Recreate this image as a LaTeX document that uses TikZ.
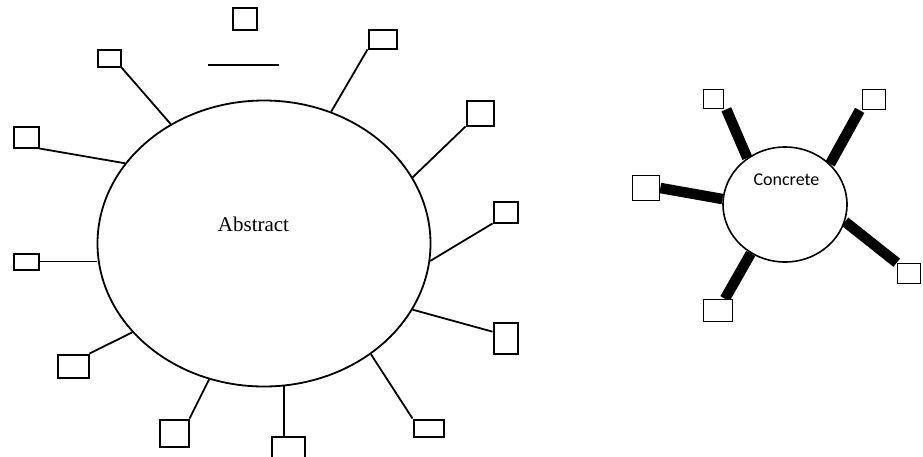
\documentclass[tikz,border=0pt]{standalone}
\usepackage{fontspec}
\setmainfont{Liberation Serif}
\newfontfamily\calfont{Carlito}
\usetikzlibrary{shapes.geometric}
\pgfdeclarelayer{bg}
\pgfsetlayers{bg,main}
\tikzset{
  leaf/.style={draw, fill=white, line width=2pt, rectangle, inner sep=0pt, anchor=center},
  hub/.style={draw, fill=white, ellipse, inner sep=0pt},
  spoke/.style={line width=1.8pt},
  bar/.style={line width=10.5pt, line cap=butt},
}
\begin{document}
\begin{tikzpicture}[x=1pt,y=-1pt]
\useasboundingbox (0,0) rectangle (923,456);

% ---- abstract hub ----
\node[hub, line width=1.8pt, minimum width=333pt, minimum height=286pt] (abs) at (264,243.5) {};
\node[anchor=base, font=\fontsize{21}{21}\selectfont] (abstxt) at (253.5,231) {Abstract};

\node[leaf, minimum width=24pt, minimum height=22pt] (t)  at (244.5,18.5) {};
\coordinate (bl) at (208,65);
\coordinate (br) at (279,65);
\node[leaf, minimum width=23pt, minimum height=17pt] (ul) at (109,58) {};
\node[leaf, minimum width=25pt, minimum height=21pt] (l1) at (26,137) {};
\node[leaf, minimum width=28pt, minimum height=19pt] (ur) at (382.5,39) {};
\node[leaf, minimum width=27pt, minimum height=25pt] (r1) at (480,113) {};
\node[leaf, minimum width=24pt, minimum height=21pt] (r2) at (505.5,212) {};
\node[leaf, minimum width=24pt, minimum height=31pt] (r3) at (505.5,338) {};
\node[leaf, minimum width=30pt, minimum height=17pt] (lr) at (428.5,428) {};
\node[leaf, minimum width=33pt, minimum height=25pt] (bt) at (288,449) {};
\node[leaf, minimum width=29pt, minimum height=27pt] (ll) at (174,433) {};
\node[leaf, minimum width=31pt, minimum height=23pt] (l3) at (73,366) {};
\node[leaf, minimum width=25pt, minimum height=16pt] (l2) at (26,261.5) {};

\begin{pgfonlayer}{bg}
\draw[spoke] (bl) -- (br);
\draw[spoke] (ul.south east) -- (abs.128.5);
\draw[spoke] (l1.south east) -- (abs.150.6);
\draw[spoke] (ur.south west) -- (abs.63.6);
\draw[spoke] (r1.south west) -- (abs.24.4);
\draw[spoke] (r2.south west) -- (abs.-6.9);
\draw[spoke] (r3.154) -- (abs.-24.2);
\draw[spoke] (lr.north west) -- (abs.-46.9);
\draw[spoke] (abs.-82.9) -- (abs.-82.9 |- bt.north);
\draw[spoke] (ll.north east) -- (abs.248.2);
\draw[spoke] (l3.north east) -- (abs.214.5);
\draw[spoke] (l2.east) -- (l2.east -| abs.west);
\end{pgfonlayer}

% ---- concrete hub ----
\node[hub, line width=1.6pt, minimum width=124pt, minimum height=115pt] (con) at (785,204.5) {};
\node[anchor=base, font=\calfont\fontsize{18}{18}\selectfont] (contxt) at (786.5,185) {Concrete};

\node[leaf, line width=1.6pt, minimum width=20pt, minimum height=19pt] (ca) at (713.5,99) {};
\node[leaf, line width=1.6pt, minimum width=23pt, minimum height=20pt] (cb) at (874,99.5) {};
\node[leaf, line width=1.6pt, minimum width=27pt, minimum height=25pt] (cc) at (646,188) {};
\node[leaf, line width=1.6pt, minimum width=23pt, minimum height=20pt] (cd) at (909,273.5) {};
\node[leaf, line width=1.6pt, minimum width=29pt, minimum height=22pt] (ce) at (718,310.5) {};

\begin{pgfonlayer}{bg}
\draw[bar] ([xshift=2pt]ca.south east) -- (con.129.5);
\draw[bar] ([xshift=-2pt]cb.south west) -- (con.42.1);
\draw[bar] (cc.east) -- (con.175.8);
\draw[bar] (cd.north west) -- (con.-16.6);
\draw[bar] ([xshift=7pt]ce.north) -- (con.235.2);
\end{pgfonlayer}
\end{tikzpicture}
\end{document}
